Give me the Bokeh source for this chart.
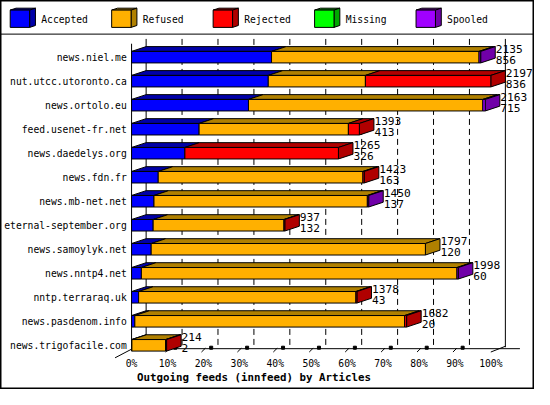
from bokeh.plotting import figure
from bokeh.models import Range1d, ColumnDataSource
from bokeh.embed import file_html
from bokeh.resources import INLINE
from bokeh.core.properties import value

# ---------------- data ----------------
hosts = ["news.niel.me", "nut.utcc.utoronto.ca", "news.ortolo.eu", "feed.usenet-fr.net",
         "news.daedelys.org", "news.fdn.fr", "news.mb-net.net", "eternal-september.org",
         "news.samoylyk.net", "news.nntp4.net", "nntp.terraraq.uk", "news.pasdenom.info",
         "news.trigofacile.com"]
offered = [2135, 2197, 2163, 1393, 1265, 1423, 1450, 937, 1797, 1998, 1378, 1682, 214]
accepted = [856, 836, 715, 413, 326, 163, 137, 132, 120, 60, 43, 20, 2]
refused = [1269, 594, 1433, 913, 0, 1252, 1305, 800, 1677, 1930, 1329, 1650, 206]
rejected = [0, 767, 0, 67, 939, 8, 0, 5, 0, 0, 6, 12, 6]
missing = [0, 0, 0, 0, 0, 0, 0, 0, 0, 0, 0, 0, 0]
spooled = [10, 0, 15, 0, 0, 0, 8, 0, 0, 8, 0, 0, 0]
series_names = ["Accepted", "Refused", "Rejected", "Missing", "Spooled"]
pct_ticks = [0, 10, 20, 30, 40, 50, 60, 70, 80, 90, 100]
title = "Outgoing feeds (innfeed) by Articles"

# ---------------- styles ----------------
front_col = ["#0000FF", "#FFB000", "#FF0000", "#00FF00", "#A000FF"]
dark_col = ["#0000A8", "#B08000", "#B00000", "#00A800", "#7000A8"]
FONT = value("DejaVu Sans Mono")

# layout in reference pixels (550x405 design), mapped onto the data scales
REF_W, REF_H = 550, 405
W, H = 534, 389
X0, PXP = 135.0, 3.70      # 0% front position, pixels per percent
Y0, ROW = 59.0, 25.0       # first row centre, row pitch


def px(v):
    return (v - X0) / PXP


def py(v):
    return (v - Y0) / ROW


DX = 15 / PXP
DY = -5 / ROW
HALF = 6 / ROW

p = figure(width=W, height=H, output_backend="svg", toolbar_location=None,
           x_range=Range1d(px(0), px(REF_W)), y_range=Range1d(py(REF_H), py(0)),
           min_border=0, x_axis_type=None, y_axis_type=None)
p.grid.visible = False
p.outline_line_color = "black"
p.outline_line_width = 2
p.background_fill_color = "white"
p.border_fill_color = "white"

# ---------------- legend ----------------
leg_x = [10, 114.5, 219, 323.5, 428]
p.line([px(0), px(REF_W)], [py(35), py(35)], line_color="black", line_width=1)
for k, name in enumerate(series_names):
    lx = leg_x[k]
    p.patch([px(lx), px(lx + 20), px(lx + 26), px(lx + 6)],
            [py(10), py(10), py(8), py(8)], fill_color=dark_col[k], line_color="black")
    p.patch([px(lx + 20), px(lx + 26), px(lx + 26), px(lx + 20)],
            [py(10), py(8), py(26), py(28)], fill_color=dark_col[k], line_color="black")
    p.quad(left=px(lx), right=px(lx + 20), top=py(10), bottom=py(28),
           fill_color=front_col[k], line_color="black")
    p.text(x=[px(lx + 32)], y=[py(20)], text=[name], text_font=FONT,
           text_font_size=value("9.7px"), text_baseline="middle", text_align="left",
           text_color="black")

# ---------------- back wall / floor ----------------
top_y, back_bot = py(40), py(361)
for t in pct_ticks:
    dash = "solid" if t in (0, 100) else "6 4"
    p.line([t + DX, t + DX], [top_y, back_bot], line_color="black", line_width=1,
           line_dash=dash)
p.line([0, 0], [py(45), py(363)], line_color="black", line_width=1)
p.line([0, px(535)], [py(362.5), py(362.5)], line_color="black", line_width=1)
p.line([px(118), 0], [py(372), py(363)], line_color="black", line_width=1)
p.line([100, 100 + DX], [py(366), py(360)], line_color="black", line_width=1)
tk = pct_ticks[1:-1]
p.segment(x0=[t - 2 / PXP for t in tk], y0=[py(366)] * len(tk),
          x1=[t + 2 / PXP for t in tk], y1=[py(362)] * len(tk),
          line_color="black", line_width=1)
p.scatter(x=[t + 8 / PXP for t in tk], y=[py(361.5)] * len(tk), marker="square",
          size=3, fill_color="black", line_color="black")

# ---------------- bars ----------------
vmax = max(offered)
series = [accepted, refused, rejected, missing, spooled]
for i in range(len(hosts)):
    ftop, fbot = i - HALF, i + HALF
    start = 0.0
    last_k, end = 0, 0.0
    fr = dict(left=[], right=[], color=[])
    tops_x, tops_y, tops_c = [], [], []
    for k, s in enumerate(series):
        v = s[i]
        if v <= 0:
            continue
        w = v / vmax * 100
        x0, x1 = start, start + w
        fr["left"].append(x0)
        fr["right"].append(x1)
        fr["color"].append(front_col[k])
        tops_x.append([x0, x1, x1 + DX, x0 + DX])
        tops_y.append([ftop, ftop, ftop + DY, ftop + DY])
        tops_c.append(dark_col[k])
        start = x1
        last_k, end = k, x1
    p.patches(tops_x, tops_y, fill_color=tops_c, line_color="black", line_width=1)
    p.patch([end, end + DX, end + DX, end], [ftop, ftop + DY, fbot + DY, fbot],
            fill_color=dark_col[last_k], line_color="black", line_width=1)
    src = ColumnDataSource(dict(left=fr["left"], right=fr["right"], color=fr["color"],
                                top=[ftop] * len(fr["left"]), bottom=[fbot] * len(fr["left"])))
    p.quad(left="left", right="right", top="top", bottom="bottom", fill_color="color",
           line_color="black", line_width=1, source=src)
    tx = end + DX + 0.5 / PXP
    p.text(x=[tx, tx], y=[i + (-8.5) / ROW, i + 2.5 / ROW],
           text=[str(offered[i]), str(accepted[i])], text_font=FONT,
           text_font_size=value("11.2px"), text_baseline="middle", text_align="left",
           text_color="black")

# host labels
p.text(x=[px(130)] * len(hosts), y=list(range(len(hosts))), text=hosts, text_font=FONT,
       text_font_size=value("9.7px"), text_baseline="middle", text_align="right",
       text_color="black")

# x tick labels
p.text(x=pct_ticks, y=[py(377.5)] * len(pct_ticks), text=[f"{t}%" for t in pct_ticks],
       text_font=FONT, text_font_size=value("9.7px"), text_baseline="middle",
       text_align="center", text_color="black")

# title
p.text(x=[px(261)], y=[py(392)], text=[title], text_font=FONT,
       text_font_size=value("10.8px"), text_font_style="bold", text_baseline="middle",
       text_align="center", text_color="black")

open("out.html", "w").write(file_html(p, INLINE))
